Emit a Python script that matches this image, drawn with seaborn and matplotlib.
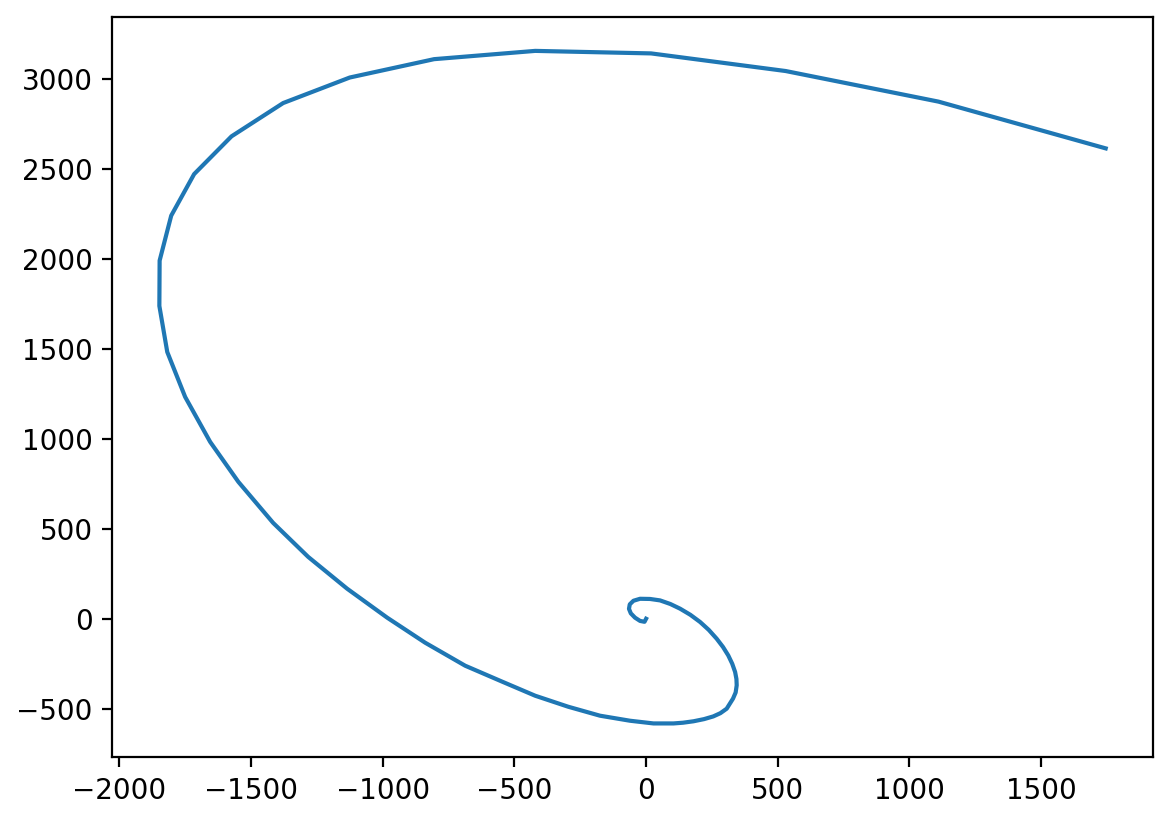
import numpy as np
import pandas as pd
import matplotlib
matplotlib.use("Agg")
import matplotlib.pyplot as plt
import seaborn as sns

# spiral path, inner end to outer end
x_vals = [0, -6, -23, -42, -58, -65, -62, -48, -23, 15, 53, 92, 129, 168, 205,
          238, 268, 292, 312, 327, 338, 343, 344, 340, 330, 306, 282, 255, 220,
          180, 140, 104, 28, -61, -175, -296, -421, -546, -687,
          -839, -983, -1135, -1283, -1416, -1548, -1655, -1750, -1818, -1848,
          -1847, -1803, -1716, -1574, -1378, -1125, -805, -421, 19, 530, 1110, 1745]
y_vals = [0, -17, -12, 6, 30, 55, 80, 100, 111, 110, 102, 82, 56, 22, -18,
          -62, -111, -157, -204, -250, -296, -335, -370, -410, -444, -500, -525,
          -543, -558, -570, -578, -582, -582, -567, -539, -489, -428, -350,
          -261, -133, 6, 167, 344, 533, 761, 983, 1233, 1483, 1739, 1991, 2241,
          2472, 2682, 2867, 3009, 3111, 3157, 3143, 3045, 2875, 2615]

df = pd.DataFrame({"x": x_vals, "y": y_vals})

fig, ax = plt.subplots(figsize=(5.86, 4.11), dpi=200)
fig.subplots_adjust(left=0.0956, right=0.9838, top=0.979, bottom=0.079)
sns.lineplot(data=df, x="x", y="y", sort=False, estimator=None, ax=ax,
             color="#1f77b4", linewidth=1.5)
ax.set_xlabel("")
ax.set_ylabel("")
fig.savefig("out.png", dpi=200)
